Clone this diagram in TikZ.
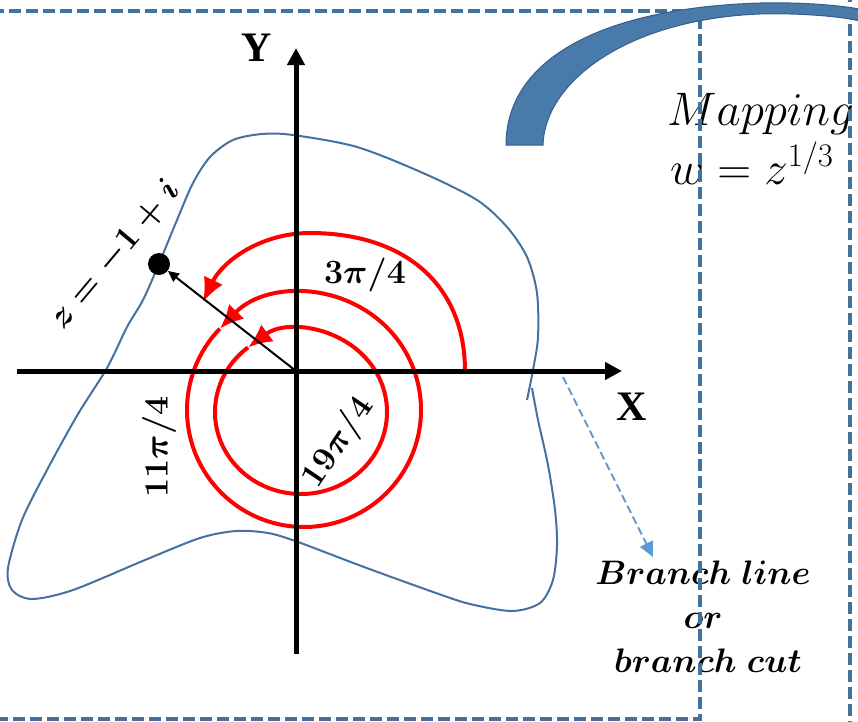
\documentclass[tikz,border=0pt]{standalone}
\usepackage{fix-cm}
\usepackage{fontspec}
\usetikzlibrary{arrows.meta}
\newfontfamily\axisfont{Liberation Serif}
\definecolor{frameblue}{RGB}{65,113,156}
\definecolor{curveblue}{RGB}{68,114,160}
\definecolor{bandblue}{RGB}{72,122,170}
\definecolor{bandedge}{RGB}{56,93,138}
\definecolor{cutblue}{RGB}{91,155,213}

\begin{document}
\begin{tikzpicture}[
  x = 1pt, y = -1pt,
  frame/.style   = {draw=frameblue, line width=3.3pt, dash pattern=on 12pt off 5pt},
  axis/.style    = {line width=5pt, -{Triangle[length=17pt,width=17pt]}},
  turn/.style    = {red, line width=4pt, -{Latex[length=24pt,width=21pt]}},
  axislbl/.style = {inner sep=0pt, font=\axisfont\bfseries\fontsize{42}{48}\selectfont},
  lbl/.style     = {inner sep=0pt, font=\fontsize{34}{40}\selectfont\boldmath},
  maplbl/.style  = {inner sep=0pt, font=\fontsize{47}{56}\selectfont},
]
\useasboundingbox (0,0) rectangle (858,721);
\clip (0,0) rectangle (858,721);

\node[maplbl, anchor=base west] (maptxt) at (667,125) {$Mapping$};
\node[maplbl, anchor=base west] (mapeq)  at (670,184) {$w=z^{1/3}$};
\node[lbl, anchor=base] (cut1) at (703,584) {$Branch\ line$};
\node[lbl, anchor=base] (cut2) at (703,628) {$or$};
\node[lbl, anchor=base] (cut3) at (708,672) {$branch\ cut$};

\draw[frame] (-10,11) rectangle (700,719);
\draw[frame] (850,-10) -- (850,730);

\fill[bandblue, draw=bandedge, line width=1pt]
  (506,145) .. controls (506,60) and (600,8) .. (760,3)
  .. controls (800,2) and (840,5) .. (865,10) -- (865,22)
  .. controls (840,16) and (800,13) .. (760,14)
  .. controls (630,19) and (545,80) .. (543,145) -- cycle;

\draw[curveblue, line width=2pt] plot[smooth] coordinates {
  (532,388) (538,420) (548,465) (555,510) (557,545) (553,580) (540,603)
  (512,611) (470,604) (436,593) (364,567) (298,542) (268,533) (236,531)
  (200,538) (145,560) (73,590) (32,599) (12,590) (8,568) (22,520) (47,470)
  (78,414) (107,368) (127,327) (143,300) (158,266) (177,220) (193,183)
  (210,157) (233,140) (262,134) (293,135) (357,147) (423,173) (477,200)
  (507,227) (527,257) (537,293) (538,337) (533,370) (527,400)};

\coordinate (cmid) at (304,410);
\coordinate (cin)  at (301,412);
\draw[turn] (465,371) .. controls (465,285) and (405,233) .. (310,233)
  .. controls (260,233) and (222,262) .. (203,302);
\draw[turn] (cmid) ++(-136:117) arc[start angle=-136, delta angle=-360, radius=117];
\draw[turn] (cin) ++(-128:86 and 82) arc[start angle=-128, delta angle=-360, x radius=86, y radius=82];

\coordinate (O)     at (296,371);
\coordinate (xfrom) at (17,371);
\coordinate (xto)   at (622,371);
\coordinate (yfrom) at (296,654);
\coordinate (yto)   at (296,48);
\draw[axis] (xfrom) -- (xto);
\draw[axis] (yfrom) -- (yto);

\node[circle, fill=black, inner sep=0pt, minimum size=22pt] (zpt) at (159,264) {};
\draw[line width=2pt, -{Triangle[length=11pt,width=10pt]}] (O) -- (zpt);

\coordinate (cutfrom) at (563,377);
\coordinate (cutto)   at (653,557);
\draw[cutblue, line width=2pt, dash pattern=on 8pt off 4pt,
      -{Triangle[length=15pt,width=14pt]}] (cutfrom) -- (cutto);

\node[axislbl] (ylbl) at (257,48)  {Y};
\node[axislbl] (xlbl) at (632,407) {X};
\node[lbl, anchor=base] (ang3) at (365,283) {$3\pi/4$};
\node[lbl, rotate=90]   (ang11) at (159,447) {$11\pi/4$};
\node[lbl, rotate=56]   (ang19) at (339,443) {$19\pi/4$};
\node[lbl, rotate=50]   (zlbl) at (115,255) {$z=-1+i$};
\end{tikzpicture}
\end{document}
